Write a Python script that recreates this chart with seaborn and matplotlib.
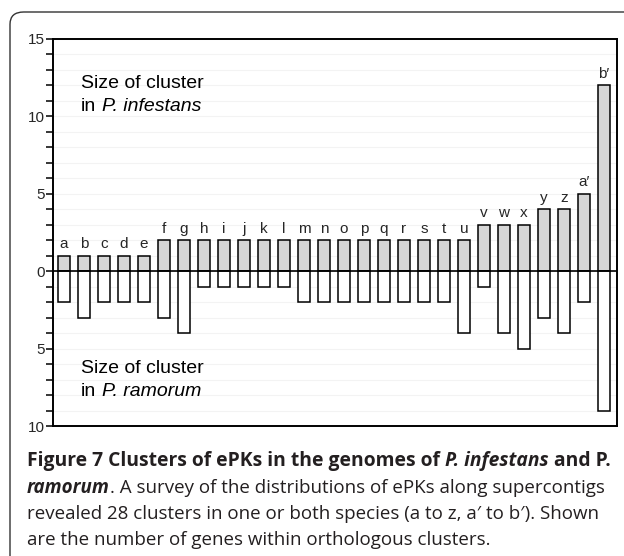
import numpy as np
import pandas as pd
import matplotlib
matplotlib.use("Agg")
import matplotlib.pyplot as plt
from matplotlib.patches import FancyBboxPatch
import seaborn as sns

# cluster names and sizes
clusters = list("abcdefghijklmnopqrstuvwxyz") + ["a\u2032", "b\u2032"]
infestans = [1, 1, 1, 1, 1, 2, 2, 2, 2, 2, 2, 2, 2, 2, 2, 2, 2, 2, 2, 2, 2, 3, 3, 3, 4, 4, 5, 12]
ramorum = [2, 3, 2, 2, 2, 3, 4, 1, 1, 1, 1, 1, 2, 2, 2, 2, 2, 2, 2, 2, 4, 1, 4, 5, 3, 4, 2, 9]
ytick_vals = [-10, -5, 0, 5, 10, 15]
ytick_labels = ["10", "5", "0", "5", "10", "15"]

sns.set_style("white")
plt.rcParams["font.family"] = ["Liberation Sans", "DejaVu Sans"]

W, H = 624, 556
df = pd.DataFrame({"cluster": clusters, "infestans": infestans,
                   "ramorum": -np.array(ramorum)})

fig = plt.figure(figsize=(W / 100, H / 100), dpi=100)
ax = fig.add_axes([53 / W, 1 - 426 / H, 564 / W, 387 / H])

# panel border with rounded corner
border = FancyBboxPatch((10 / W, -0.2), 1.2, 1.2 - 12 / H,
                        boxstyle="round,pad=0,rounding_size=0.022",
                        transform=fig.transFigure, fill=False,
                        edgecolor="#333333", linewidth=1.0)
fig.patches.append(border)

# faint grid lines
for v in range(-10, 16):
    ax.axhline(v, color="#f3f3f3", lw=0.8, zorder=0)

sns.barplot(data=df, x="cluster", y="infestans", order=clusters, ax=ax,
            color="#d6d6d6", edgecolor="black", linewidth=1.1, width=0.62,
            saturation=1, zorder=2)
sns.barplot(data=df, x="cluster", y="ramorum", order=clusters, ax=ax,
            color="white", edgecolor="black", linewidth=1.1, width=0.62,
            saturation=1, zorder=2)

ax.axhline(0, color="black", lw=1.2, zorder=3)

for i, (name, v) in enumerate(zip(clusters, infestans)):
    ax.text(i, v + 0.3, name, ha="center", va="bottom", fontsize=11)

ax.set_xlim(-0.55, 27.65)
ax.set_ylim(-10, 15)
ax.set_xlabel("")
ax.set_ylabel("")
ax.set_xticks([])
ax.set_yticks(ytick_vals)
ax.set_yticklabels(ytick_labels, fontsize=11)
ax.set_yticks(range(-10, 16), minor=True)
ax.tick_params(axis="y", which="both", direction="out", length=5, width=1.1,
               color="black", left=True, pad=1)
for sp in ax.spines.values():
    sp.set_visible(True)
    sp.set_color("black")
    sp.set_linewidth(1.4)

renderer = fig.canvas.get_renderer()


def runs(x_px, y_px, parts, fs, family, color="black"):
    # draw text pieces one after another on the same baseline (pixel coords from top-left)
    x = x_px
    for s, weight, style, gap in parts:
        x += gap * fs * 100 / 72
        t = fig.text(x / W, 1 - y_px / H, s, fontsize=fs, fontweight=weight,
                     fontstyle=style, va="baseline", ha="left", color=color,
                     family=family)
        x = t.get_window_extent(renderer).x1


plot_fam = ["Liberation Sans", "DejaVu Sans"]
fs = 14
runs(81, 88, [("Size of cluster", "normal", "normal", 0)], fs, plot_fam)
runs(81, 111, [("in", "normal", "normal", 0),
               ("P. infestans", "normal", "italic", 0.28)], fs, plot_fam)
runs(81, 373, [("Size of cluster", "normal", "normal", 0)], fs, plot_fam)
runs(81, 396, [("in", "normal", "normal", 0),
               ("P. ramorum", "normal", "italic", 0.28)], fs, plot_fam)

# caption
col = "#231f20"
cap_fam = ["Open Sans", "DejaVu Sans"]
cb = 13.9
cn = 13.5
runs(27, 466, [("Figure 7 Clusters of ePKs in the genomes of", "bold", "normal", 0),
               ("P. infestans", "bold", "italic", 0.26),
               ("and P.", "bold", "normal", 0.26)], cb, cap_fam, col)
runs(27, 493, [("ramorum", "bold", "italic", 0),
               (". A survey of the distributions of ePKs along supercontigs",
                "normal", "normal", 0)], cn, cap_fam, col)
runs(27, 519, [("revealed 28 clusters in one or both species (a to z, a\u2032 to b\u2032). Shown",
                "normal", "normal", 0)], cn, cap_fam, col)
runs(27, 545, [("are the number of genes within orthologous clusters.",
                "normal", "normal", 0)], cn, cap_fam, col)

fig.savefig("out.png", dpi=100)
